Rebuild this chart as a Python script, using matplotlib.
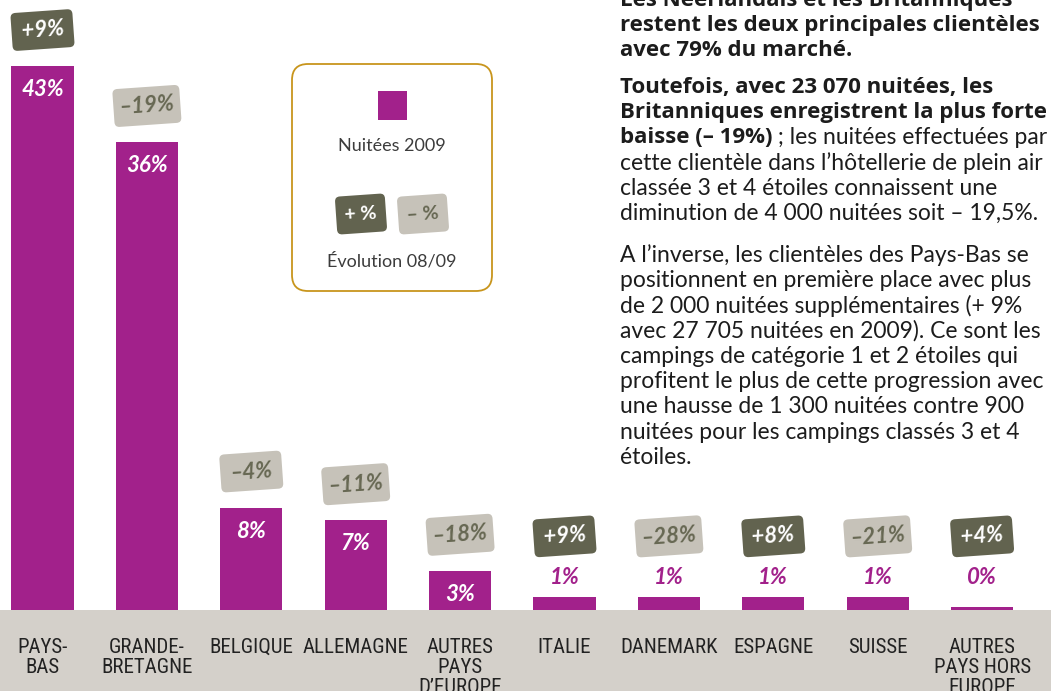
import matplotlib
matplotlib.use("Agg")
import matplotlib.pyplot as plt
from matplotlib import font_manager as fm
from matplotlib.patches import FancyBboxPatch, Rectangle
from matplotlib.transforms import Affine2D

# Data
categories = ["PAYS-\nBAS", "GRANDE-\nBRETAGNE", "BELGIQUE", "ALLEMAGNE",
              "AUTRES\nPAYS\nD’EUROPE", "ITALIE", "DANEMARK", "ESPAGNE",
              "SUISSE", "AUTRES\nPAYS HORS\nEUROPE"]
shares = [43, 37, 8.1, 7.1, 3.1, 1, 1, 1, 1, 0.25]          # bar heights (%)
share_labels = ["43%", "36%", "8%", "7%", "3%", "1%", "1%", "1%", "1%", "0%"]
evolution = [9, -19, -4, -11, -18, 9, -28, 8, -21, 4]       # evolution 08/09 (%)

para1 = ["Les Néerlandais et les Britanniques",
         "restent les deux principales clientèles",
         "avec 79% du marché."]
para2_bold = ["Toutefois, avec 23 070 nuitées, les",
              "Britanniques enregistrent la plus forte"]
para2_mixed = ("baisse (– 19%)", " ; les nuitées effectuées par")
para2_reg = ["cette clientèle dans l’hôtellerie de plein air",
             "classée 3 et 4 étoiles connaissent une",
             "diminution de 4 000 nuitées soit – 19,5%."]
para3 = ["A l’inverse, les clientèles des Pays-Bas se",
         "positionnent en première place avec plus",
         "de 2 000 nuitées supplémentaires (+ 9%",
         "avec 27 705 nuitées en 2009). Ce sont les",
         "campings de catégorie 1 et 2 étoiles qui",
         "profitent le plus de cette progression avec",
         "une hausse de 1 300 nuitées contre 900",
         "nuitées pour les campings classés 3 et 4",
         "étoiles."]

PURPLE = "#a2218b"
DARK = "#62634f"
LIGHT = "#c6c2b9"
LIGHT_TXT = "#676853"
BAND = "#d4d0ca"


def pick(*names):
    avail = {f.name for f in fm.fontManager.ttflist}
    for n in names:
        if n in avail:
            return n
    return "DejaVu Sans"


reg_font = pick("Lato", "Open Sans", "DejaVu Sans")
bold_font = pick("Open Sans", "Lato", "DejaVu Sans")
narrow_font = pick("Liberation Sans Narrow", "Roboto Condensed", "DejaVu Sans")
num_font = pick("Lato", "Open Sans", "DejaVu Sans")

W, H = 1051, 691
base = 610           # baseline of the bars, in pixels from top
px_per_pct = 12.65
step = 104.4
x0 = 42.5

fig = plt.figure(figsize=(W / 100, H / 100), dpi=100)

# layout layer in pixel coordinates
lay = fig.add_axes([0, 0, 1, 1])
lay.set_xlim(0, W)
lay.set_ylim(H, 0)
lay.axis("off")
lay.add_patch(Rectangle((0, base), W, H - base, color=BAND, lw=0))

# bar chart
ax = fig.add_axes([0, (H - base) / H, 1, base / H])
ax.set_zorder(2)
ax.set_xlim(-x0 / step, (W - x0) / step)
ax.set_ylim(0, base / px_per_pct)
ax.axis("off")

xs = list(range(len(categories)))
ax.bar(xs, shares, width=0.594, color=PURPLE)


def badge(axes, cx, cy, w, h, fc):
    # rounded tag, tilted 4 degrees, in display pixels
    p = FancyBboxPatch((cx - w / 2, cy - h / 2), w, h,
                       boxstyle="round,pad=0,rounding_size=5", fc=fc, ec="none",
                       transform=Affine2D().rotate_deg_around(cx, cy, 4),
                       clip_on=False)
    axes.add_patch(p)


for i, (h, lab, ev, cat) in enumerate(zip(shares, share_labels, evolution, categories)):
    inside = h >= 3
    anchor = h if inside else max(h, 1)   # small bars: labels on a common line
    ax.annotate(lab, xy=(i, anchor), xytext=(0, -17 if inside else 14),
                textcoords="offset points", ha="center", va="center",
                color="white" if inside else PURPLE, fontsize=16,
                fontstyle="italic", fontweight="bold", family=num_font)
    pos = ev > 0
    txt = f"+{ev}%" if pos else f"–{abs(ev)}%"
    up = 36 if inside else 61
    bx, by = ax.transData.transform((i, anchor))
    badge(ax, bx, by + up, 62 if abs(ev) < 10 else 67, 38, DARK if pos else LIGHT)
    ax.annotate(txt, xy=(i, anchor), xytext=(0, up * 0.72),
                textcoords="offset points", ha="center", va="center",
                rotation=4, rotation_mode="anchor",
                color="white" if pos else LIGHT_TXT, fontsize=16,
                fontstyle="italic", fontweight="bold", family=num_font)
    ax.annotate(cat, xy=(i, 0), xytext=(0, -20), textcoords="offset points",
                ha="center", va="top", fontsize=15, color="#222222",
                family=narrow_font, linespacing=1.08, annotation_clip=False)

# legend box
lay.add_patch(FancyBboxPatch((292, 64), 200, 227,
                             boxstyle="round,pad=0,rounding_size=16",
                             fc="white", ec="#c8951c", lw=1.3))
lay.add_patch(Rectangle((378, 91), 29, 29, color=PURPLE, lw=0))
lay.text(392, 146, "Nuitées 2009", ha="center", va="center", fontsize=13,
         color="#3c3c3c", family=reg_font)
for cx, t, fc, tc in [(361, "+ %", DARK, "white"), (423, "– %", LIGHT, LIGHT_TXT)]:
    dx, dy = lay.transData.transform((cx, 214))
    badge(lay, dx, dy, 50, 38, fc)
    lay.text(cx, 214, t, ha="center", va="center", fontsize=14, rotation=4,
             rotation_mode="anchor", color=tc, fontweight="bold", family=num_font)
lay.text(392, 261, "Évolution 08/09", ha="center", va="center", fontsize=13,
         color="#3c3c3c", family=reg_font)

# text on the right
tx = 620
lh = 25.3
col = "#1c1c1c"
y = 0
for line in para1:
    lay.text(tx, y, line, ha="left", va="center", fontsize=16, fontweight="bold",
             color=col, family=bold_font)
    y += lh
y = 87
for line in para2_bold:
    lay.text(tx, y, line, ha="left", va="center", fontsize=16, fontweight="bold",
             color=col, family=bold_font)
    y += lh
b = lay.text(tx, y, para2_mixed[0], ha="left", va="center", fontsize=16,
             fontweight="bold", color=col, family=bold_font)
fig.canvas.draw()
x_end = b.get_window_extent().x1
lay.text(x_end, y, para2_mixed[1], ha="left", va="center", fontsize=16.5,
         color=col, family=reg_font)
y += lh
for line in para2_reg:
    lay.text(tx, y, line, ha="left", va="center", fontsize=16.5, color=col,
             family=reg_font)
    y += lh
y = 255
for line in para3:
    lay.text(tx, y, line, ha="left", va="center", fontsize=16.5, color=col,
             family=reg_font)
    y += lh

fig.savefig("out.png", dpi=100)
